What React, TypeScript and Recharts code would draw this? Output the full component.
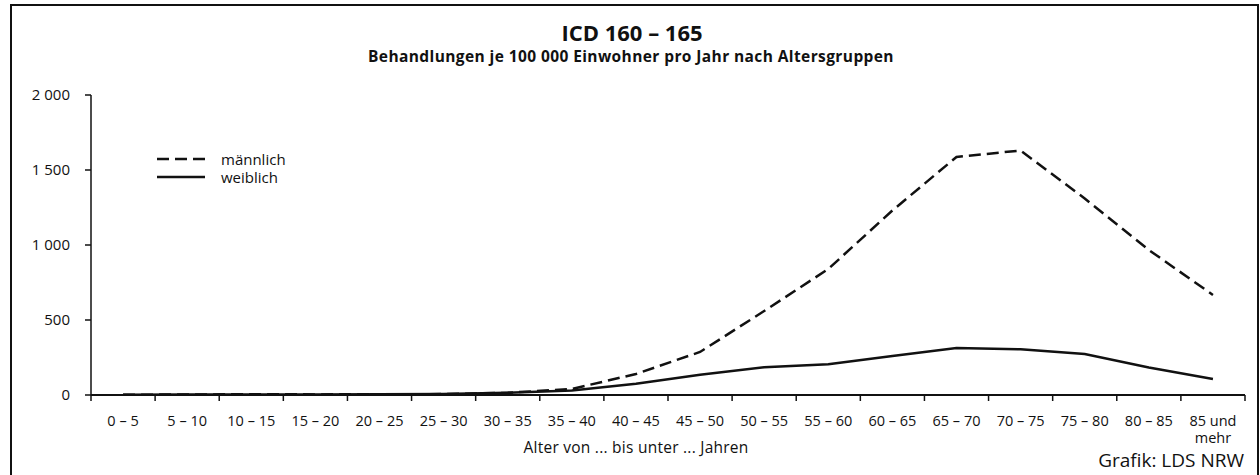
import React from "react";
import { LineChart, Line, XAxis, YAxis, Legend } from "recharts";

const ageGroups = [
  "0 – 5", "5 – 10", "10 – 15", "15 – 20", "20 – 25", "25 – 30",
  "30 – 35", "35 – 40", "40 – 45", "45 – 50", "50 – 55", "55 – 60",
  "60 – 65", "65 – 70", "70 – 75", "75 – 80", "80 – 85", "85 und mehr",
];
const maleValues = [2, 3, 5, 4, 5, 6, 15, 40, 140, 287, 560, 840, 1230, 1587, 1630, 1310, 967, 667];
const femaleValues = [2, 3, 4, 4, 5, 6, 15, 30, 75, 135, 185, 205, 260, 313, 305, 273, 183, 107];
const yTicks = [0, 500, 1000, 1500, 2000];

// each age group sits in the middle of its slot; the slot edges carry the tick marks
const data = ageGroups.map((age, i) => ({ age, pos: i + 0.5, male: maleValues[i], female: femaleValues[i] }));
const xTicks: number[] = [];
for (let i = 0; i <= ageGroups.length * 2; i++) xTicks.push(i / 2);

const FONT = "'Open Sans', sans-serif";
const DASH = "12 6";

function formatThousands(v: number) {
  return String(v).replace(/\B(?=(\d{3})+(?!\d))/g, " ");
}

function AgeTick(props: any) {
  const { x, y, payload } = props;
  const v: number = payload.value;
  if (Number.isInteger(v)) {
    return <line x1={x} x2={x} y1={y} y2={y + 6} stroke="#111" strokeWidth={1.5} />;
  }
  const label = ageGroups[Math.floor(v)];
  const parts = label === "85 und mehr" ? ["85 und", "mehr"] : [label];
  return (
    <text x={x} y={y} textAnchor="middle" fontFamily={FONT} fontSize={14.5} fill="#111">
      {parts.map((p, i) => (
        <tspan key={i} x={x} dy={i === 0 ? 31 : 17}>
          {p}
        </tspan>
      ))}
    </text>
  );
}

function LegendBox({ payload }: any) {
  return (
    <div style={{ fontFamily: FONT, fontSize: 15, color: "#111" }}>
      {(payload || []).map((entry: any) => (
        <div key={entry.value} style={{ display: "flex", alignItems: "center", height: 18 }}>
          <svg width={64} height={18}>
            <line
              x1={0}
              x2={48}
              y1={9}
              y2={9}
              stroke="#111"
              strokeWidth={2.5}
              strokeDasharray={entry.dataKey === "male" ? DASH : undefined}
            />
          </svg>
          <span style={{ lineHeight: "18px" }}>{entry.value}</span>
        </div>
      ))}
    </div>
  );
}

export default function App() {
  return (
    <div style={{ position: "absolute", left: 0, top: 0, width: 1260, height: 475, background: "#fff", overflow: "hidden" }}>
      <div
        style={{
          position: "absolute",
          left: 10,
          top: 4,
          width: 1245,
          height: 520,
          border: "2px solid #111",
        }}
      />
      <svg width={1260} height={475} style={{ position: "absolute", left: 0, top: 0 }}>
        <text x={632} y={41} textAnchor="middle" fontFamily={FONT} fontWeight={700} fontSize={22} fill="#111">
          ICD 160 – 165
        </text>
        <text x={631} y={62} textAnchor="middle" fontFamily={FONT} fontWeight={700} fontSize={15.5} letterSpacing={0.4} fill="#111">
          Behandlungen je 100 000 Einwohner pro Jahr nach Altersgruppen
        </text>
        <text x={636} y={453} textAnchor="middle" fontFamily={FONT} fontSize={15.5} letterSpacing={0.25} fill="#111">
          Alter von ... bis unter ... Jahren
        </text>
        <text x={1244} y={467} textAnchor="end" fontFamily={FONT} fontSize={19} fill="#111">
          Grafik: LDS NRW
        </text>
      </svg>
      <div style={{ position: "absolute", left: 0, top: 0 }}>
        <LineChart width={1260} height={475} data={data} margin={{ top: 95, right: 15, bottom: 30, left: 10 }}>
          <XAxis
            dataKey="pos"
            type="number"
            domain={[0, ageGroups.length]}
            ticks={xTicks}
            interval={0}
            height={50}
            tickSize={0}
            tickMargin={0}
            tickLine={false}
            tick={<AgeTick />}
            axisLine={{ stroke: "#111", strokeWidth: 2 }}
          />
          <YAxis
            width={81}
            domain={[0, 2000]}
            ticks={yTicks}
            tickFormatter={formatThousands}
            tickSize={6}
            tickMargin={15}
            axisLine={{ stroke: "#111", strokeWidth: 1.5 }}
            tickLine={{ stroke: "#111", strokeWidth: 1.5 }}
            tick={{ fill: "#111", fontFamily: FONT, fontSize: 15 }}
          />
          <Legend
            layout="horizontal"
            verticalAlign="middle"
            align="center"
            content={<LegendBox />}
            wrapperStyle={{ left: 157, top: 150, width: 200 }}
          />
          <Line
            dataKey="male"
            name="männlich"
            type="linear"
            stroke="#111"
            strokeWidth={2.5}
            strokeDasharray={DASH}
            dot={false}
            isAnimationActive={false}
          />
          <Line
            dataKey="female"
            name="weiblich"
            type="linear"
            stroke="#111"
            strokeWidth={2.5}
            dot={false}
            isAnimationActive={false}
          />
        </LineChart>
      </div>
    </div>
  );
}
